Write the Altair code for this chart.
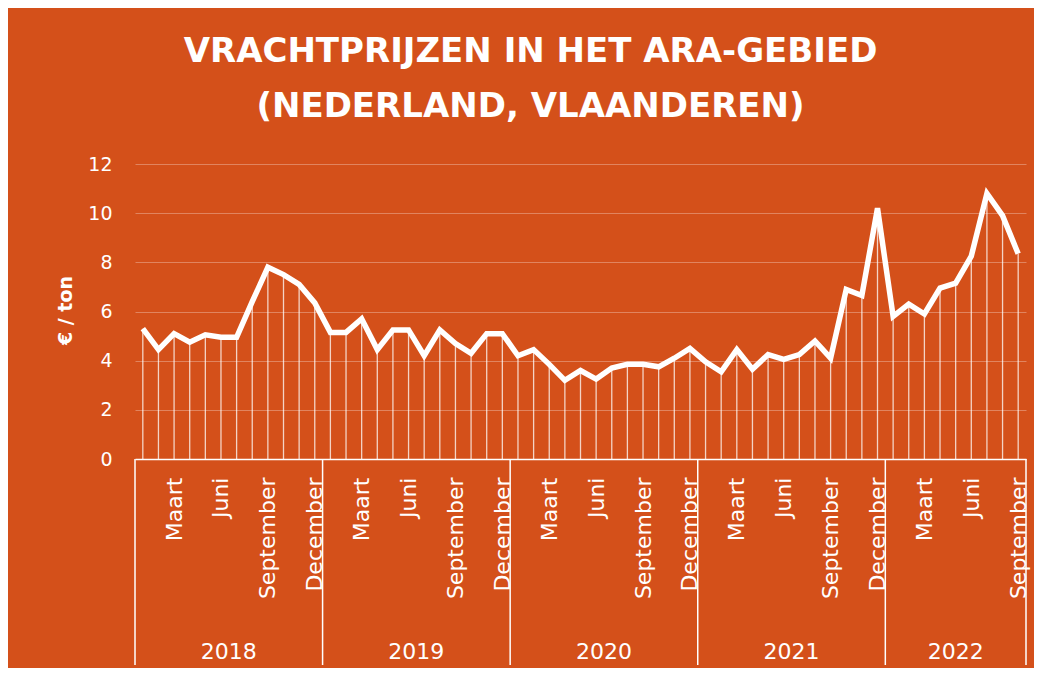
import json
import altair as alt
import pandas as pd

# ---------------- data ----------------
YEARS = [2018, 2019, 2020, 2021, 2022]
MONTHS_PER_YEAR = [12, 12, 12, 12, 9]
MONTH_NAMES = ["Januari", "Februari", "Maart", "April", "Mei", "Juni", "Juli",
               "Augustus", "September", "Oktober", "November", "December"]
SHOWN_MONTHS = ["Maart", "Juni", "September", "December"]

PRICES_2018 = [5.3, 4.45, 5.1, 4.75, 5.05, 4.95, 4.95, 6.4, 7.8, 7.5, 7.1, 6.35]
PRICES_2019 = [5.15, 5.15, 5.7, 4.45, 5.25, 5.25, 4.2, 5.25, 4.7, 4.3, 5.1, 5.1]
PRICES_2020 = [4.2, 4.45, 3.85, 3.2, 3.6, 3.25, 3.7, 3.85, 3.85, 3.75, 4.1, 4.5]
PRICES_2021 = [3.95, 3.55, 4.45, 3.65, 4.25, 4.05, 4.25, 4.8, 4.1, 6.9, 6.65, 10.2]
PRICES_2022 = [5.8, 6.3, 5.9, 6.95, 7.15, 8.25, 10.8, 9.9, 8.35]

TITLE_LINES = ["VRACHTPRIJZEN IN HET ARA-GEBIED", "(NEDERLAND, VLAANDEREN)"]
Y_TITLE = "€ / ton"
Y_TICKS = [0, 2, 4, 6, 8, 10, 12]

PRICES = PRICES_2018 + PRICES_2019 + PRICES_2020 + PRICES_2021 + PRICES_2022

# ---------------- tables ----------------
rows = []
i = 0
for yr, n in zip(YEARS, MONTHS_PER_YEAR):
    for m in range(n):
        rows.append({"idx": i, "year": str(yr), "month": MONTH_NAMES[m],
                     "price": PRICES[i], "zero": 0})
        i += 1
df = pd.DataFrame(rows)
N = len(df)

month_of_idx = list(df["month"])
label_values = [r["idx"] for r in rows if r["month"] in SHOWN_MONTHS]
label_expr = json.dumps(month_of_idx) + "[datum.value]"

year_rows = []
bounds = [-0.5]
start = 0
for yr, n in zip(YEARS, MONTHS_PER_YEAR):
    year_rows.append({"year": str(yr), "mid": start + (n - 1) / 2})
    start += n
    bounds.append(start - 0.5)
df_years = pd.DataFrame(year_rows)
df_bounds = pd.DataFrame({"pos": bounds})

# ---------------- style ----------------
BG = "#D4501A"
FONT = "DejaVu Sans"
W, H = 891, 295

xscale = alt.Scale(domain=[-0.5, N - 0.5], nice=False, zero=False)
yscale = alt.Scale(domain=[0, 12], nice=False)

x_axis = alt.Axis(values=label_values, labelExpr=label_expr, labelAngle=270,
                  labelAlign="right", labelBaseline="middle", labelPadding=18,
                  labelFontSize=22, labelFont=FONT, labelColor="white",
                  ticks=False, tickSize=0, grid=False, domainColor="white",
                  domainWidth=1.5, title=None, labelOverlap=False)
y_axis = alt.Axis(values=Y_TICKS, title=Y_TITLE, titleAngle=270, titleX=-70,
                  titleY=146, titleAlign="center", titleBaseline="middle",
                  titleFont=FONT, titleFontSize=19, titleFontWeight="bold",
                  titleColor="white", labelFont=FONT, labelFontSize=19,
                  labelColor="white", labelPadding=23, ticks=False, domain=False,
                  gridColor="white", gridOpacity=0.3, gridWidth=1)

drops = alt.Chart(df).mark_rule(color="white", strokeWidth=1.3, opacity=0.75).encode(
    x=alt.X("idx:Q", scale=xscale, axis=x_axis),
    y=alt.Y("price:Q", scale=yscale, axis=y_axis),
    y2="zero:Q",
)

line = alt.Chart(df).mark_line(color="white", strokeWidth=5.5).encode(
    x=alt.X("idx:Q", scale=xscale, axis=x_axis),
    y=alt.Y("price:Q", scale=yscale, axis=y_axis),
)

seps = alt.Chart(df_bounds).mark_rule(color="white", strokeWidth=1.5).encode(
    x=alt.X("pos:Q", scale=xscale, axis=x_axis),
    y=alt.value(H),
    y2=alt.value(H + 206),
)

years = alt.Chart(df_years).mark_text(color="white", font=FONT, fontSize=22,
                                      baseline="alphabetic", align="center").encode(
    x=alt.X("mid:Q", scale=xscale, axis=x_axis),
    y=alt.value(H + 200),
    text="year:N",
)

chart = alt.layer(drops, line, seps, years).properties(
    width=W,
    height=H,
    title=alt.TitleParams(text=TITLE_LINES, font=FONT, fontSize=34,
                          fontWeight="bold", color="white", lineHeight=55,
                          anchor="middle", dx=-50, offset=31),
    autosize=alt.AutoSizeParams(type="none"),
    padding={"left": 127, "top": 156, "right": 8, "bottom": 209},
    background=BG,
).configure_view(stroke=None)

chart.save("out.html", embed_options={"renderer": "svg", "actions": False})
